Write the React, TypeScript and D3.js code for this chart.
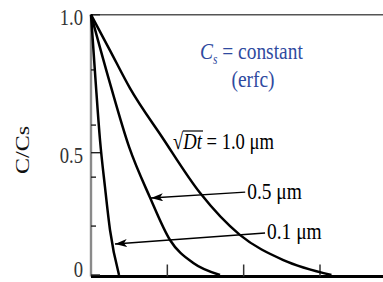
import React from "react";
import * as d3 from "d3";

// ---- data ----
const depthTicks = [1, 2, 3];
const yMajorTicks = [0, 0.5, 1.0];
const yTickLabels = ["0", "0.5", "1.0"];
const yMinorTicks = [0.2, 0.4, 0.6, 0.8];

const curve10Depth = [0, 0.25, 0.51, 0.93, 1.43, 1.95, 2.52, 3.15];
const curve10Conc = [1.0, 0.87, 0.734, 0.557, 0.335, 0.164, 0.061, 0];
const curve05Depth = [0, 0.25, 0.5, 0.77, 1.035, 1.34, 1.69];
const curve05Conc = [1.0, 0.75, 0.52, 0.319, 0.143, 0.049, 0];
const curve01Depth = [0, 0.06, 0.118, 0.183, 0.249, 0.367];
const curve01Conc = [1.0, 0.76, 0.546, 0.36, 0.184, 0];

const seriesLabels = ["1.0 μm", "0.5 μm", "0.1 μm"];
const titleLine1 = "constant";
const titleLine2 = "(erfc)";
const yLabel = "C/Cs";

// arrow annotations: [tailDepth, tailConc, tipDepth, tipConc]
const arrow05 = [2.02, 0.339, 0.786, 0.315];
const arrow01 = [2.28, 0.172, 0.314, 0.127];

const W = 383;
const H = 282;
const SX = 0.81; // horizontal squeeze of the scanned figure
const FONT = "'Liberation Serif', 'Times New Roman', serif";
const BLUE = "#2f4aa0";

export default function App() {
  const x = d3.scaleLinear().domain([0, 3]).range([91, 320]);
  const y = d3.scaleLinear().domain([0, 0.5, 1]).range([275, 152.7, 14.7]);

  const line = d3
    .line<[number, number]>()
    .x((d) => x(d[0]))
    .y((d) => y(d[1]))
    .curve(d3.curveMonotoneX);

  const series = [
    d3.zip(curve10Depth, curve10Conc) as [number, number][],
    d3.zip(curve05Depth, curve05Conc) as [number, number][],
    d3.zip(curve01Depth, curve01Conc) as [number, number][],
  ];

  const left = x(0);
  const top = y(1);
  const bottom = 276.5;

  const arrow = (a: number[], key: string) => (
    <line
      key={key}
      x1={x(a[0])}
      y1={y(a[1])}
      x2={x(a[2])}
      y2={y(a[3])}
      stroke="#000"
      strokeWidth={1.4}
      markerEnd="url(#ah)"
    />
  );

  const sqTxt = (
    tx: number,
    ty: number,
    content: React.ReactNode,
    size: number,
    fill = "#000",
    anchor = "start"
  ) => (
    <g transform={`translate(${tx},${ty}) scale(${SX},1)`}>
      <text
        x={0}
        y={0}
        fontFamily={FONT}
        fontSize={size}
        fill={fill}
        textAnchor={anchor}
      >
        {content}
      </text>
    </g>
  );

  const sqrtX = 173;
  const sqrtY = 149;

  return (
    <svg
      width={W}
      height={H}
      style={{ position: "absolute", left: 0, top: 0, background: "#fff" }}
    >
      <defs>
        <marker
          id="ah"
          viewBox="0 0 12 8"
          refX={12}
          refY={4}
          markerWidth={12}
          markerHeight={8}
          markerUnits="userSpaceOnUse"
          orient="auto"
        >
          <path d="M0,0 L12,4 L0,8 L3,4 Z" fill="#000" />
        </marker>
      </defs>

      {/* frame */}
      <line x1={left} y1={top} x2={W} y2={top} stroke="#555" strokeWidth={1.6} />
      <line x1={left} y1={top} x2={left} y2={bottom} stroke="#8a8a8a" strokeWidth={2.4} />
      <line x1={left} y1={bottom} x2={W} y2={bottom} stroke="#000" strokeWidth={3} />

      {/* y ticks */}
      {yMajorTicks.map((t) => (
        <line key={"ym" + t} x1={left} x2={left + 9} y1={y(t)} y2={y(t)} stroke="#222" strokeWidth={1.4} />
      ))}
      {yMinorTicks.map((t) => (
        <line key={"yn" + t} x1={left} x2={left + 5} y1={y(t)} y2={y(t)} stroke="#222" strokeWidth={1.4} />
      ))}
      {yMajorTicks.map((t, i) => (
        <g key={"yl" + t} transform={`translate(83,${Math.min(y(t) + 2.5, 269)}) scale(${SX},1)`}>
          <text
            x={0}
            y={0}
            dy="0.34em"
            textAnchor="end"
            fontFamily={FONT}
            fontSize={23}
            fill="#333"
          >
            {yTickLabels[i]}
          </text>
        </g>
      ))}

      {/* x ticks */}
      {depthTicks.map((t) => (
        <line key={"x" + t} x1={x(t)} x2={x(t)} y1={bottom} y2={bottom - 12} stroke="#333" strokeWidth={1.5} />
      ))}

      {/* curves */}
      {series.map((s, i) => (
        <path key={"c" + i} d={line(s) || ""} fill="none" stroke="#000" strokeWidth={2.5} />
      ))}

      {/* arrows */}
      {arrow(arrow05, "a05")}
      {arrow(arrow01, "a01")}

      {/* labels */}
      {sqTxt(
        200,
        59,
        <>
          <tspan fontStyle="italic">C</tspan>
          <tspan fontStyle="italic" fontSize={14} dy={5}>s</tspan>
          <tspan dy={-5}>{" = " + titleLine1}</tspan>
        </>,
        24,
        BLUE
      )}
      {sqTxt(253, 87, titleLine2, 24, BLUE, "middle")}

      {sqTxt(
        sqrtX,
        sqrtY,
        <>
          <tspan>√</tspan>
          <tspan fontStyle="italic">Dt</tspan>
          <tspan>{" = " + seriesLabels[0]}</tspan>
        </>,
        23
      )}
      <line x1={sqrtX + 10} x2={sqrtX + 30} y1={131} y2={131} stroke="#000" strokeWidth={1.2} />

      {sqTxt(x(arrow05[0]) + 2, 199, seriesLabels[1], 24)}
      {sqTxt(x(arrow01[0]) + 2, 239, seriesLabels[2], 24)}

      {/* y label */}
      <g transform={`translate(29,150) rotate(-90) scale(1,${SX})`}>
        <text x={0} y={0} textAnchor="middle" fontFamily={FONT} fontSize={24} fill="#111">
          {yLabel}
        </text>
      </g>
    </svg>
  );
}
